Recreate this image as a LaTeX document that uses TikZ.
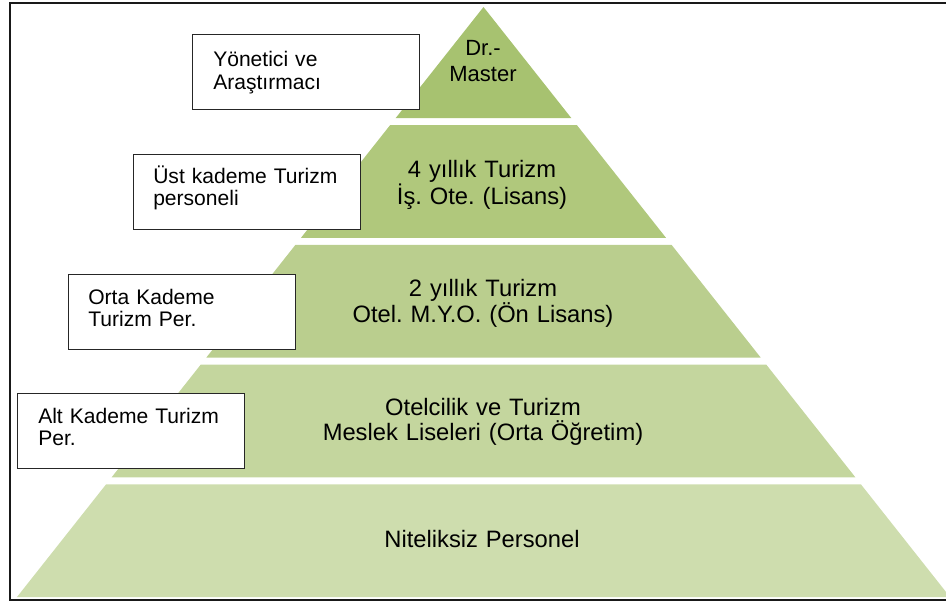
\documentclass[tikz,border=0pt]{standalone}
\usepackage{fontspec}
\setmainfont{Liberation Sans}
\frenchspacing
\definecolor{lay1}{RGB}{167,194,112}
\definecolor{lay2}{RGB}{176,200,124}
\definecolor{lay3}{RGB}{186,206,142}
\definecolor{lay4}{RGB}{196,214,158}
\definecolor{lay5}{RGB}{206,221,174}
\tikzset{
  ptext/.style={font=\fontsize{17.8}{18.3}\selectfont\frenchspacing, text width=300pt, align=center, inner sep=0pt, anchor=base},
  lbox/.style={draw=black!85, line width=0.9pt, fill=white, inner sep=0pt, anchor=north west, minimum width=170.25pt, minimum height=56.25pt},
  ltext/.style={font=\fontsize{15.8}{16.8}\selectfont\frenchspacing, text width=180pt, align=left, inner sep=0pt, anchor=base west},
}
\begin{document}
\begin{tikzpicture}[x=0.75pt,y=-0.75pt]
\useasboundingbox (0,0) rectangle (946,603);
% outer frame
\draw[line width=1.4pt, black!90] (10,3) rectangle (952,600);
% pyramid layers
\fill[lay1] (483.5,7) -- (571.27,118) -- (395.73,118) -- cycle;
\fill[lay2] (390.2,125) -- (576.8,125) -- (665.95,237.75) -- (301.05,237.75) -- cycle;
\fill[lay3] (295.51,244.75) -- (671.49,244.75) -- (760.64,357.5) -- (206.36,357.5) -- cycle;
\fill[lay4] (200.82,364.5) -- (766.18,364.5) -- (855.33,477.25) -- (111.67,477.25) -- cycle;
\fill[lay5] (106.14,484.25) -- (860.86,484.25) -- (949.99,597) -- (16.99,597) -- cycle;
% pyramid texts
\node[ptext, font=\fontsize{16.5}{20}\selectfont\frenchspacing] (t1) at (483,55) {Dr.-\\Master};
\node[ptext] (t2) at (482,177.3) {4 yıllık Turizm\\İş. Ote. (Lisans)};
\node[ptext] (t3) at (483,296.7) {2 yıllık Turizm\\Otel. M.Y.O. (Ön Lisans)};
\node[ptext] (t4) at (483,415.7) {Otelcilik ve Turizm\\Meslek Liseleri (Orta Öğretim)};
\node[ptext] (t5) at (482,547.3) {Niteliksiz Personel};
% label boxes
\node[lbox] (b1) at (192,34) {};
\node[ltext] (b1t) at (213,66.7) {Yönetici ve\\Araştırmacı};
\node[lbox] (b2) at (133,154) {};
\node[ltext] (b2t) at (153,183.3) {Üst kademe Turizm\\personeli};
\node[lbox] (b3) at (68,274) {};
\node[ltext] (b3t) at (88,304.3) {Orta Kademe\\Turizm Per.};
\node[lbox] (b4) at (17,393) {};
\node[ltext] (b4t) at (38,423.3) {Alt Kademe Turizm\\Per.};
\end{tikzpicture}
\end{document}
